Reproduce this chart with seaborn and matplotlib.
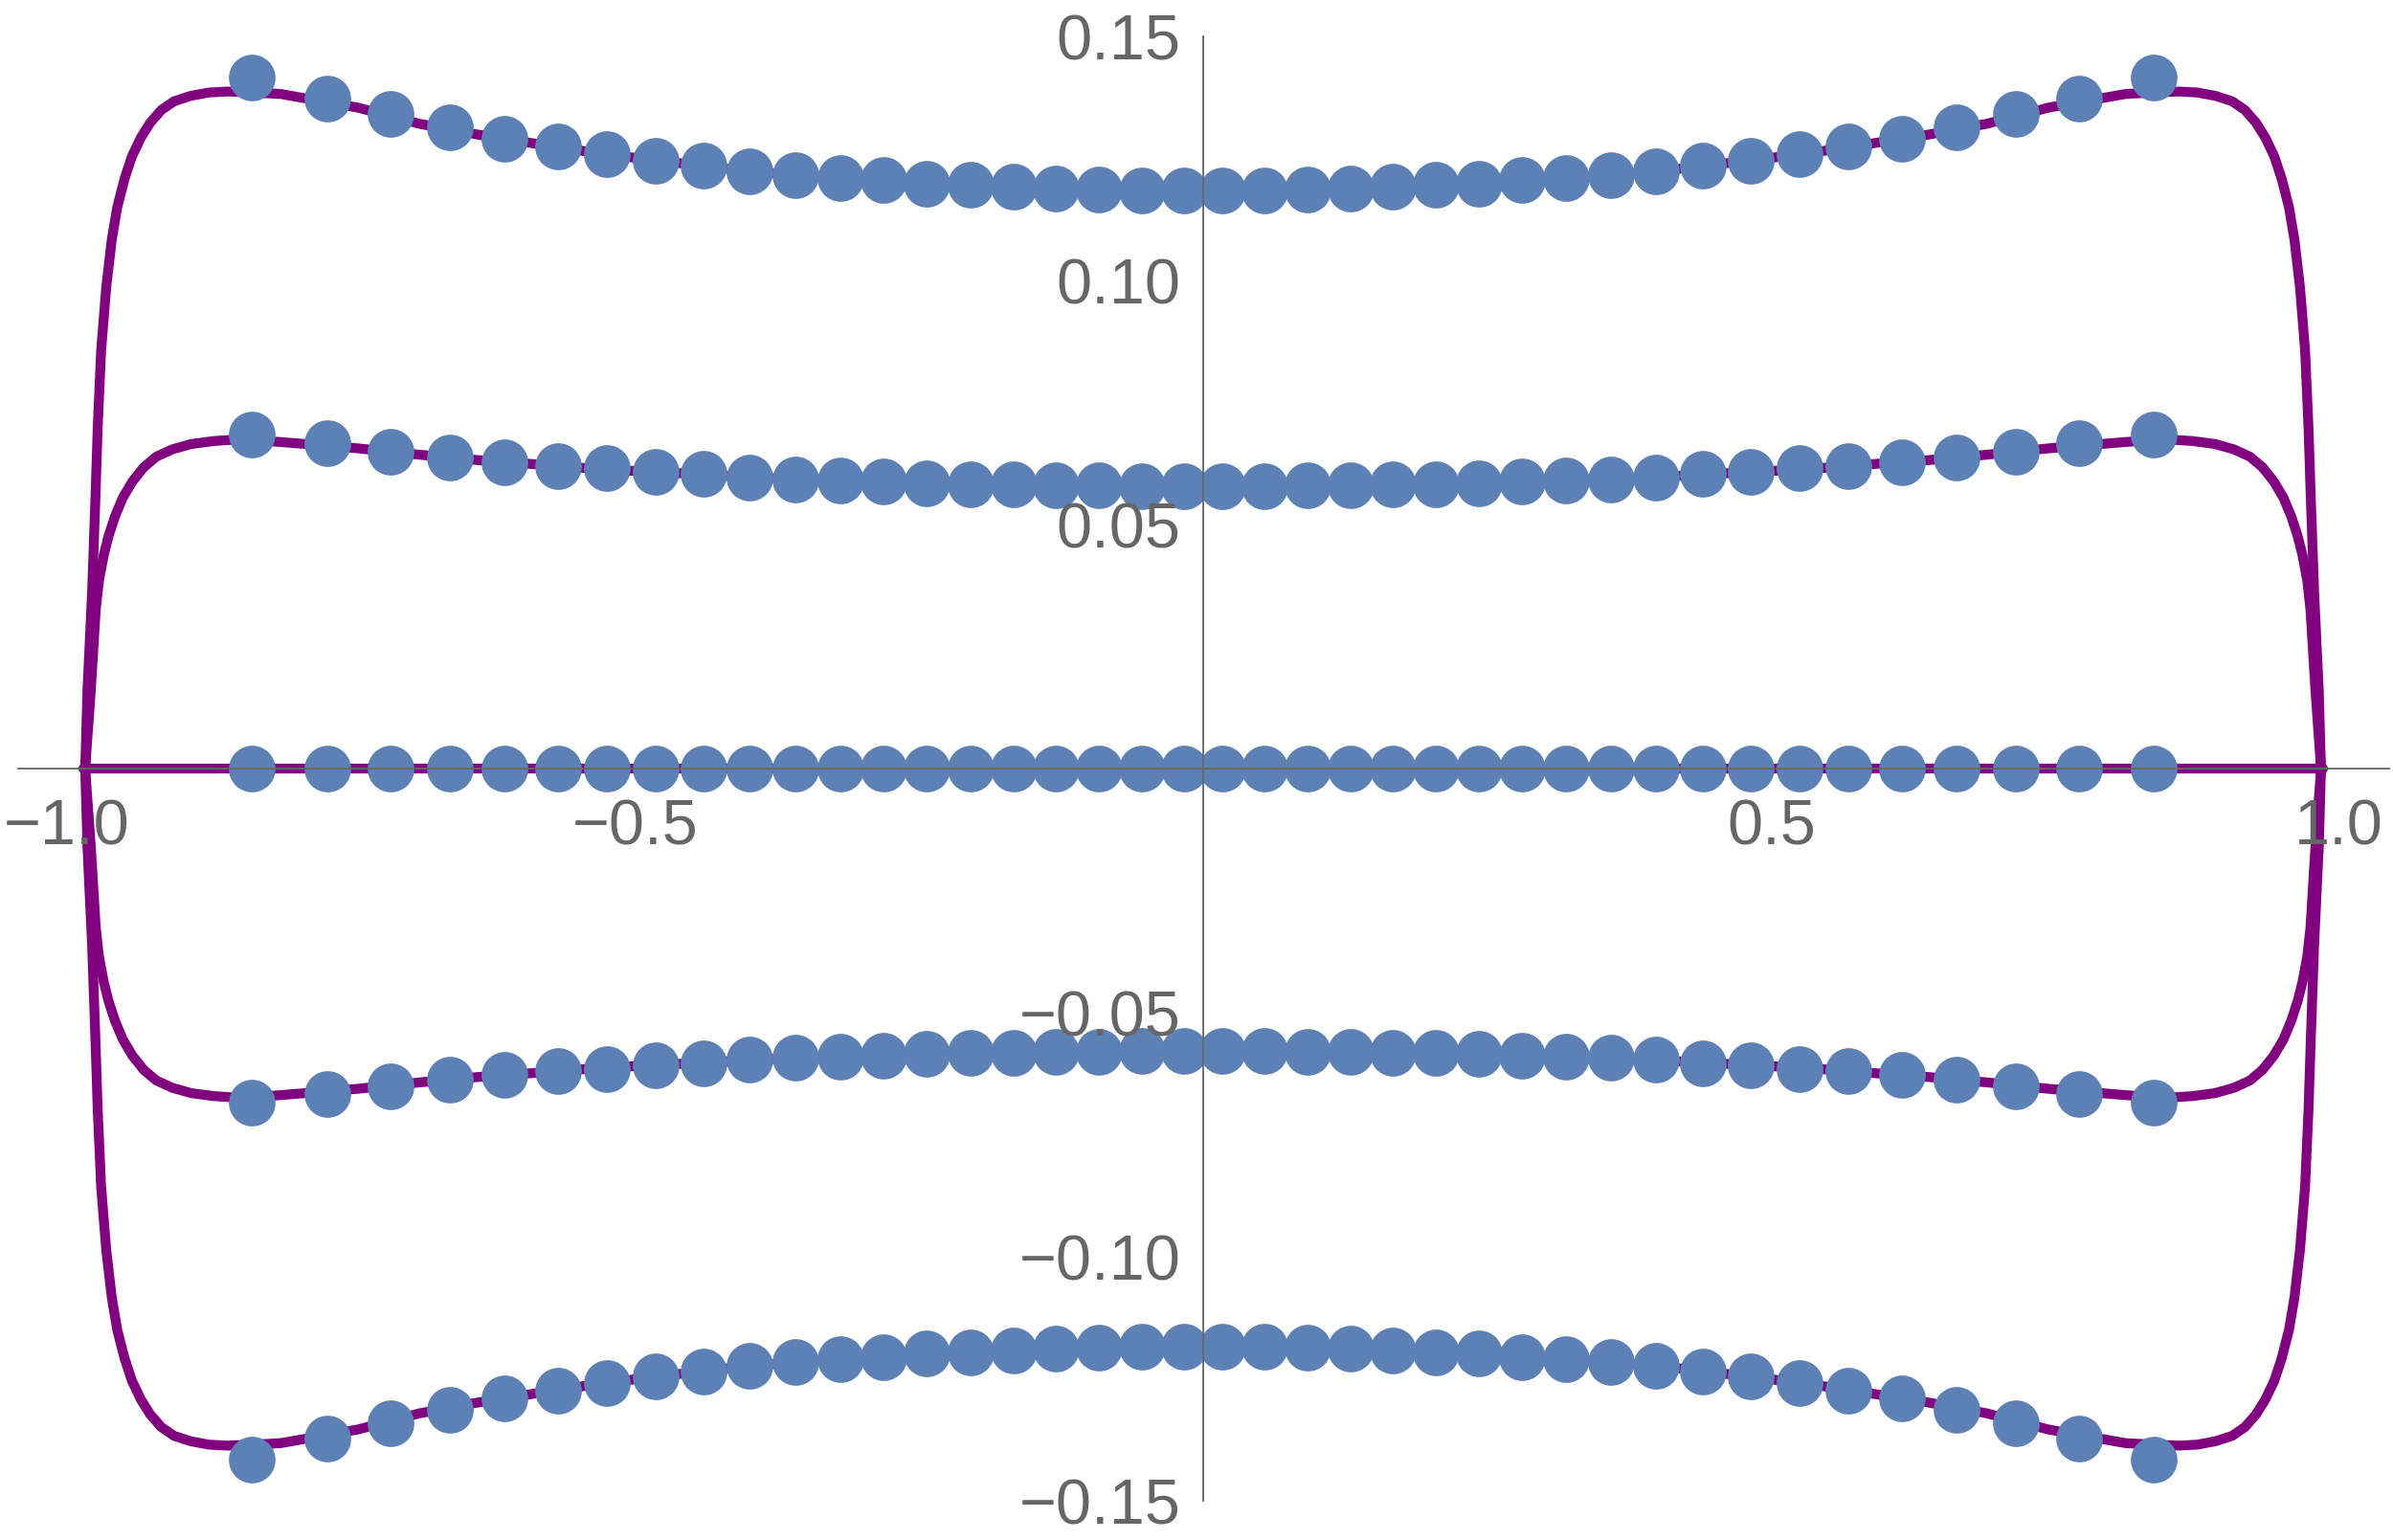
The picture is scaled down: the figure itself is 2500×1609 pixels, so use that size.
#%% Importing libraries
import numpy as np
import pandas as pd
import seaborn as sns
import matplotlib.pyplot as plt
from matplotlib.ticker import FixedLocator, MultipleLocator

#%% Data
# sample points (blue dots)
dot_x = [-0.837, -0.771, -0.715, -0.663, -0.615, -0.568, -0.525, -0.482, -0.440, -0.399,
         -0.359, -0.319, -0.281, -0.243, -0.205, -0.167, -0.130, -0.092, -0.054, -0.017,
         0.017, 0.054, 0.092, 0.130, 0.167, 0.205, 0.243, 0.281, 0.319, 0.359,
         0.399, 0.440, 0.482, 0.525, 0.568, 0.615, 0.663, 0.715, 0.771, 0.837]

dot_top = [0.1416, 0.1373, 0.1341, 0.1313, 0.1291, 0.1274, 0.1258, 0.1246, 0.1235, 0.1224,
           0.1216, 0.1210, 0.1205, 0.1199, 0.1196, 0.1192, 0.1189, 0.1186, 0.1185, 0.1184,
           0.1184, 0.1185, 0.1186, 0.1189, 0.1192, 0.1196, 0.1199, 0.1205, 0.1210, 0.1216,
           0.1224, 0.1235, 0.1246, 0.1258, 0.1274, 0.1291, 0.1313, 0.1341, 0.1373, 0.1416]
dot_upper = [0.0684, 0.0666, 0.0650, 0.0638, 0.0628, 0.0620, 0.0615, 0.0607, 0.0603, 0.0597,
             0.0593, 0.0591, 0.0588, 0.0585, 0.0583, 0.0582, 0.0580, 0.0580, 0.0579, 0.0578,
             0.0578, 0.0579, 0.0580, 0.0580, 0.0582, 0.0583, 0.0585, 0.0588, 0.0591, 0.0593,
             0.0597, 0.0603, 0.0607, 0.0615, 0.0620, 0.0628, 0.0638, 0.0650, 0.0666, 0.0684]
dot_zero = [0.0, 0.0, 0.0, 0.0, 0.0, 0.0, 0.0, 0.0, 0.0, 0.0,
            0.0, 0.0, 0.0, 0.0, 0.0, 0.0, 0.0, 0.0, 0.0, 0.0,
            0.0, 0.0, 0.0, 0.0, 0.0, 0.0, 0.0, 0.0, 0.0, 0.0,
            0.0, 0.0, 0.0, 0.0, 0.0, 0.0, 0.0, 0.0, 0.0, 0.0]
dot_lower = [-0.0684, -0.0666, -0.0650, -0.0638, -0.0628, -0.0620, -0.0615, -0.0607, -0.0603, -0.0597,
             -0.0593, -0.0591, -0.0588, -0.0585, -0.0583, -0.0582, -0.0580, -0.0580, -0.0579, -0.0578,
             -0.0578, -0.0579, -0.0580, -0.0580, -0.0582, -0.0583, -0.0585, -0.0588, -0.0591, -0.0593,
             -0.0597, -0.0603, -0.0607, -0.0615, -0.0620, -0.0628, -0.0638, -0.0650, -0.0666, -0.0684]
dot_bottom = [-0.1416, -0.1373, -0.1341, -0.1313, -0.1291, -0.1274, -0.1258, -0.1246, -0.1235, -0.1224,
              -0.1216, -0.1210, -0.1205, -0.1199, -0.1196, -0.1192, -0.1189, -0.1186, -0.1185, -0.1184,
              -0.1184, -0.1185, -0.1186, -0.1189, -0.1192, -0.1196, -0.1199, -0.1205, -0.1210, -0.1216,
              -0.1224, -0.1235, -0.1246, -0.1258, -0.1274, -0.1291, -0.1313, -0.1341, -0.1373, -0.1416]

# purple curves, outer pair
outer_x = [-0.984, -0.982, -0.978, -0.975, -0.973, -0.970, -0.9655, -0.9606, -0.9558, -0.9494,
           -0.9429, -0.9349, -0.9268, -0.9171, -0.9058, -0.8913, -0.8752, -0.8591, -0.837, -0.812,
           -0.744, -0.690, -0.639, -0.590, -0.545, -0.503, -0.460, -0.420, -0.380, -0.340,
           -0.300, -0.262, -0.224, -0.186, -0.148, -0.111, -0.073, -0.036, 0.0,
           0.036, 0.073, 0.111, 0.148, 0.186, 0.224, 0.262, 0.300,
           0.340, 0.380, 0.420, 0.460, 0.503, 0.545, 0.590, 0.639, 0.690, 0.744,
           0.812, 0.837, 0.8591, 0.8752, 0.8913, 0.9058, 0.9171, 0.9268, 0.9349, 0.9429,
           0.9494, 0.9558, 0.9606, 0.9655, 0.970, 0.973, 0.975, 0.978, 0.982, 0.984]
outer_top = [0.0, 0.0163, 0.0359, 0.0555, 0.0699, 0.0856, 0.0986, 0.1084, 0.1150, 0.1208,
             0.1254, 0.1293, 0.1323, 0.1349, 0.1367, 0.1378, 0.1385, 0.1387, 0.1385, 0.1382,
             0.1354, 0.1321, 0.1299, 0.1281, 0.1265, 0.1252, 0.1240, 0.1229, 0.1220, 0.1213,
             0.1207, 0.1202, 0.1197, 0.1194, 0.1190, 0.1188, 0.1186, 0.1184, 0.1184,
             0.1184, 0.1186, 0.1188, 0.1190, 0.1194, 0.1197, 0.1202, 0.1207,
             0.1213, 0.1220, 0.1229, 0.1240, 0.1252, 0.1265, 0.1281, 0.1299, 0.1321, 0.1354,
             0.1382, 0.1385, 0.1387, 0.1385, 0.1378, 0.1367, 0.1349, 0.1323, 0.1293, 0.1254,
             0.1208, 0.1150, 0.1084, 0.0986, 0.0856, 0.0699, 0.0555, 0.0359, 0.0163, 0.0]
outer_bottom = [0.0, -0.0163, -0.0359, -0.0555, -0.0699, -0.0856, -0.0986, -0.1084, -0.1150, -0.1208,
                -0.1254, -0.1293, -0.1323, -0.1349, -0.1367, -0.1378, -0.1385, -0.1387, -0.1385, -0.1382,
                -0.1354, -0.1321, -0.1299, -0.1281, -0.1265, -0.1252, -0.1240, -0.1229, -0.1220, -0.1213,
                -0.1207, -0.1202, -0.1197, -0.1194, -0.1190, -0.1188, -0.1186, -0.1184, -0.1184,
                -0.1184, -0.1186, -0.1188, -0.1190, -0.1194, -0.1197, -0.1202, -0.1207,
                -0.1213, -0.1220, -0.1229, -0.1240, -0.1252, -0.1265, -0.1281, -0.1299, -0.1321, -0.1354,
                -0.1382, -0.1385, -0.1387, -0.1385, -0.1378, -0.1367, -0.1349, -0.1323, -0.1293, -0.1254,
                -0.1208, -0.1150, -0.1084, -0.0986, -0.0856, -0.0699, -0.0555, -0.0359, -0.0163, 0.0]

# purple curves, inner pair
inner_x = [-0.984, -0.979, -0.9747, -0.9719, -0.9677, -0.9635, -0.9579, -0.9509, -0.9425, -0.9326,
           -0.9214, -0.9073, -0.8905, -0.8708, -0.8511, -0.837, -0.812, -0.744, -0.690, -0.639,
           -0.591, -0.546, -0.503, -0.461, -0.420, -0.380, -0.340, -0.300, -0.262, -0.224,
           -0.186, -0.148, -0.111, -0.073, -0.036, 0.0,
           0.036, 0.073, 0.111, 0.148, 0.186, 0.224, 0.262, 0.300, 0.340, 0.380,
           0.420, 0.461, 0.503, 0.546, 0.591, 0.639, 0.690, 0.744, 0.812, 0.837,
           0.8511, 0.8708, 0.8905, 0.9073, 0.9214, 0.9326, 0.9425, 0.9509, 0.9579, 0.9635,
           0.9677, 0.9719, 0.9747, 0.979, 0.984]
inner_top = [0.0, 0.0163, 0.0326, 0.0385, 0.0437, 0.0476, 0.0516, 0.0555, 0.0588, 0.0617,
             0.0639, 0.0654, 0.0665, 0.0671, 0.0674, 0.0673, 0.0669, 0.0656, 0.0643, 0.0632,
             0.0624, 0.0616, 0.0610, 0.0605, 0.0600, 0.0595, 0.0592, 0.0590, 0.0587, 0.0584,
             0.0582, 0.0581, 0.0580, 0.0579, 0.0578, 0.0578,
             0.0578, 0.0579, 0.0580, 0.0581, 0.0582, 0.0584, 0.0587, 0.0590, 0.0592, 0.0595,
             0.0600, 0.0605, 0.0610, 0.0616, 0.0624, 0.0632, 0.0643, 0.0656, 0.0669, 0.0673,
             0.0674, 0.0671, 0.0665, 0.0654, 0.0639, 0.0617, 0.0588, 0.0555, 0.0516, 0.0476,
             0.0437, 0.0385, 0.0326, 0.0163, 0.0]
inner_bottom = [0.0, -0.0163, -0.0326, -0.0385, -0.0437, -0.0476, -0.0516, -0.0555, -0.0588, -0.0617,
                -0.0639, -0.0654, -0.0665, -0.0671, -0.0674, -0.0673, -0.0669, -0.0656, -0.0643, -0.0632,
                -0.0624, -0.0616, -0.0610, -0.0605, -0.0600, -0.0595, -0.0592, -0.0590, -0.0587, -0.0584,
                -0.0582, -0.0581, -0.0580, -0.0579, -0.0578, -0.0578,
                -0.0578, -0.0579, -0.0580, -0.0581, -0.0582, -0.0584, -0.0587, -0.0590, -0.0592, -0.0595,
                -0.0600, -0.0605, -0.0610, -0.0616, -0.0624, -0.0632, -0.0643, -0.0656, -0.0669, -0.0673,
                -0.0674, -0.0671, -0.0665, -0.0654, -0.0639, -0.0617, -0.0588, -0.0555, -0.0516, -0.0476,
                -0.0437, -0.0385, -0.0326, -0.0163, 0.0]

# flat curve
flat_x = [-0.986, 0.986]
flat_y = [0.0, 0.0]

x_major = [-1.0, -0.5, 0.5, 1.0]
x_labels = ["\u22121.0", "\u22120.5", "0.5", "1.0"]
y_major = [-0.15, -0.10, -0.05, 0.05, 0.10, 0.15]
y_labels = ["\u22120.15", "\u22120.10", "\u22120.05", "0.05", "0.10", "0.15"]

#%% Build long tables
dots = pd.concat([
    pd.DataFrame({"x": dot_x, "y": ys, "row": name})
    for name, ys in [("top", dot_top), ("upper", dot_upper), ("zero", dot_zero),
                     ("lower", dot_lower), ("bottom", dot_bottom)]
], ignore_index=True)

curves = pd.concat([
    pd.DataFrame({"x": xs, "y": ys, "curve": name})
    for name, xs, ys in [("outer_top", outer_x, outer_top), ("outer_bottom", outer_x, outer_bottom),
                         ("inner_top", inner_x, inner_top), ("inner_bottom", inner_x, inner_bottom),
                         ("flat", flat_x, flat_y)]
], ignore_index=True)

#%% Plot
sns.set_style("white")
plt.rcParams['font.family'] = ['Liberation Sans', 'DejaVu Sans']

axis_grey = "#666666"
fig = plt.figure(figsize=(25, 16.09), dpi=100)
ax = fig.add_axes([0.0076, 0.02548, 0.9908, 0.9509])

sns.lineplot(data=curves, x="x", y="y", units="curve", estimator=None, sort=False,
             color="#800080", linewidth=7.4, ax=ax, zorder=2, legend=False,
             solid_joinstyle="round")
sns.scatterplot(data=dots, x="x", y="y", color="#5E81B5", s=1230, linewidth=0,
                ax=ax, zorder=3, legend=False)

ax.set_xlim(-1.043, 1.044)
ax.set_ylim(-0.15, 0.15)
ax.set_xlabel("")
ax.set_ylabel("")

# Mathematica style axes crossing at the origin
for side in ["top", "right"]:
    ax.spines[side].set_visible(False)
for side in ["left", "bottom"]:
    ax.spines[side].set_position(("data", 0))
    ax.spines[side].set_color(axis_grey)
    ax.spines[side].set_linewidth(1.3)
    ax.spines[side].set_zorder(5)

ax.xaxis.set_major_locator(FixedLocator(x_major))
ax.xaxis.set_ticklabels(x_labels)
ax.yaxis.set_major_locator(FixedLocator(y_major))
ax.yaxis.set_ticklabels(y_labels)
ax.xaxis.set_minor_locator(MultipleLocator(0.1))
ax.yaxis.set_minor_locator(MultipleLocator(0.01))

ax.tick_params(which="both", direction="in", colors=axis_grey, width=1.0,
               labelsize=48, labelcolor=axis_grey)
ax.tick_params(axis="x", which="both", pad=23)
ax.tick_params(axis="y", which="both", pad=17)
ax.tick_params(which="major", length=3.0)
ax.tick_params(which="minor", length=1.6)
ax.xaxis.set_zorder(6)
ax.yaxis.set_zorder(6)

fig.savefig("out.png", dpi=100)
